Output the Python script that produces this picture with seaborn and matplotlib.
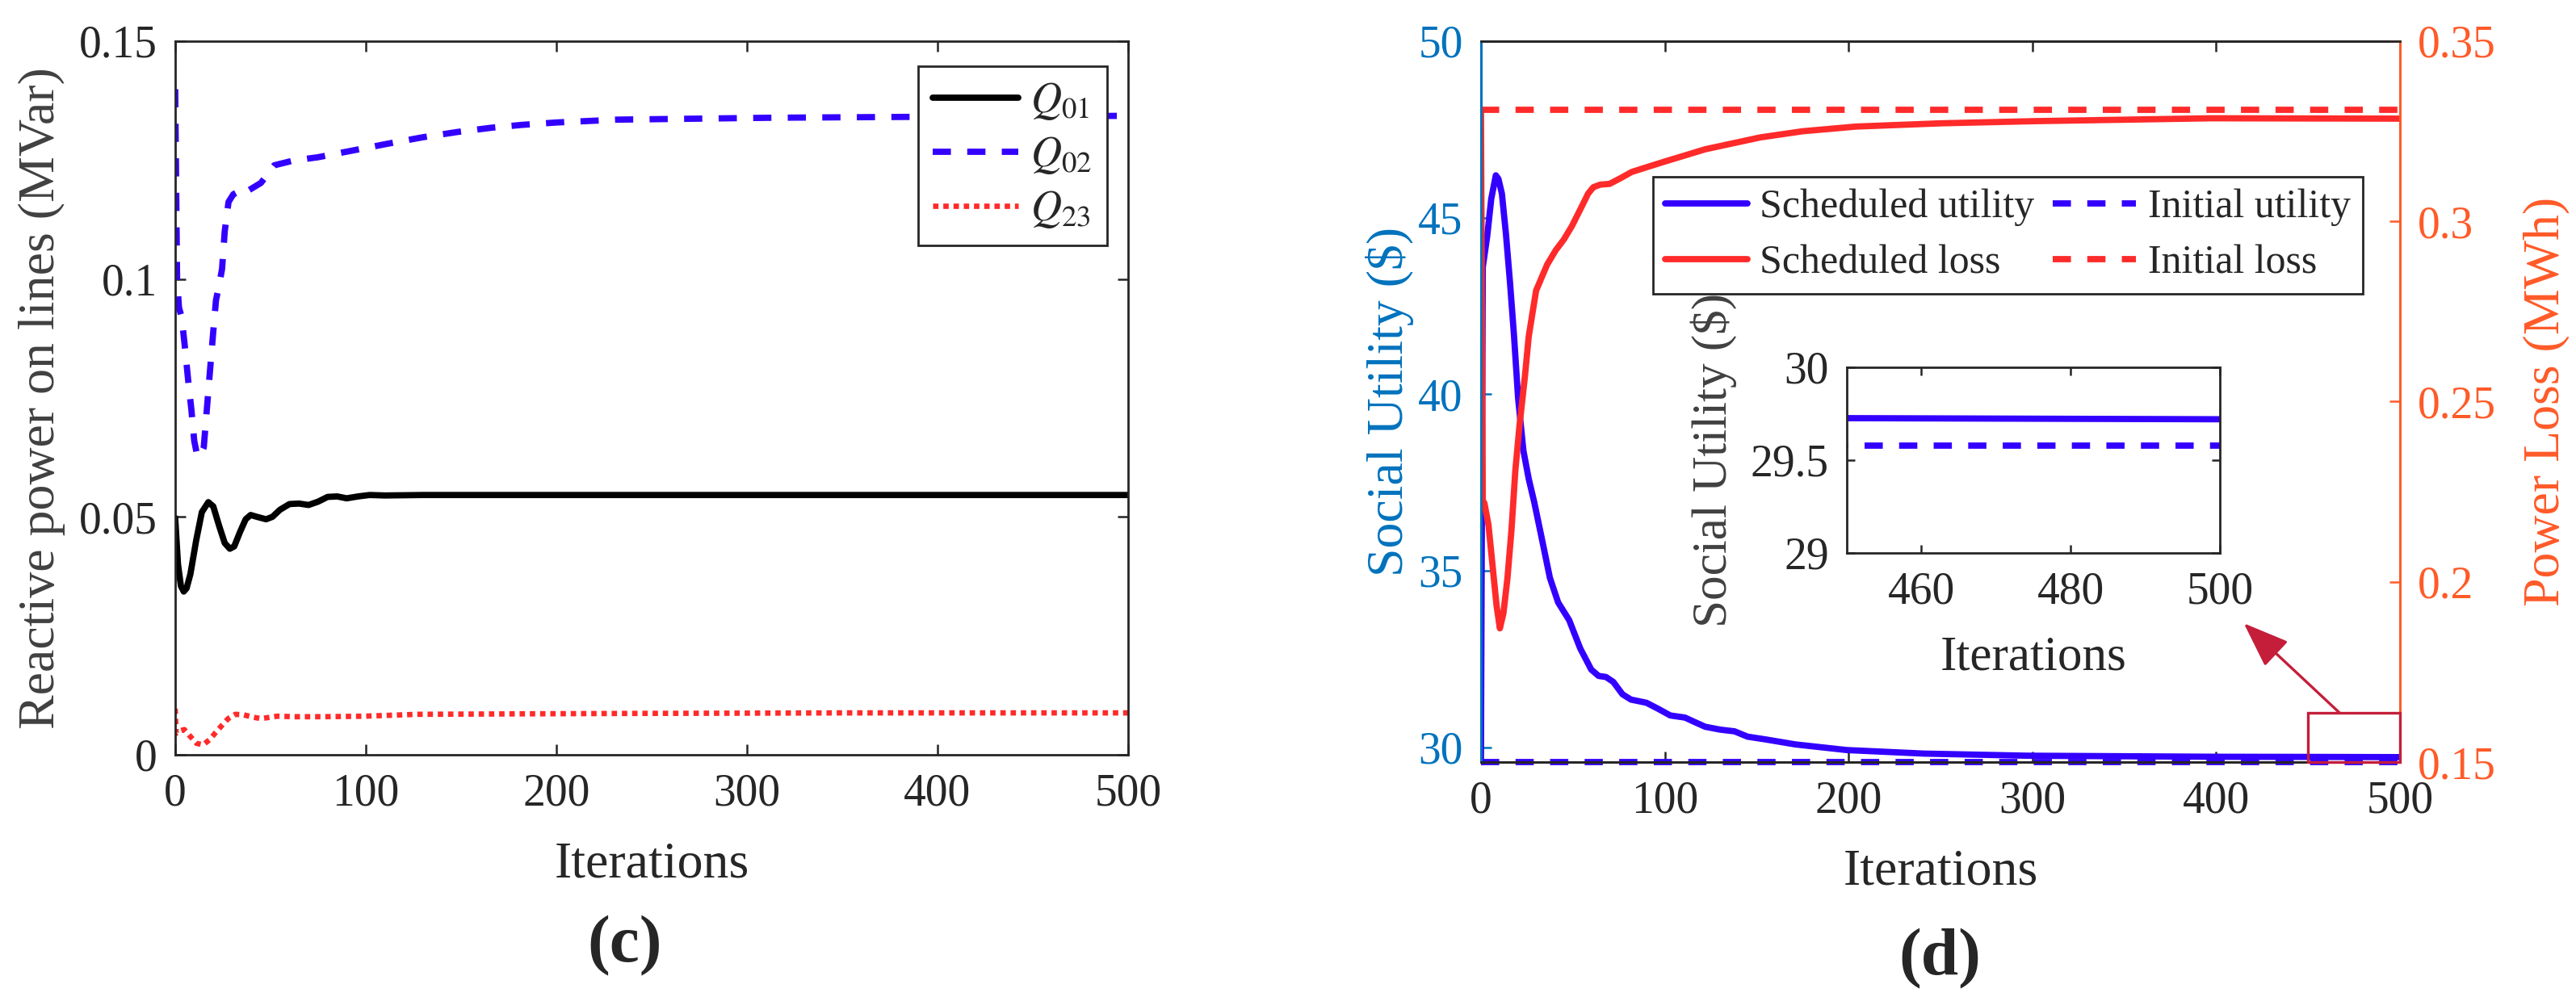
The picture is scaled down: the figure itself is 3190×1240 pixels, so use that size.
import seaborn as sns
import matplotlib.pyplot as plt
from matplotlib.patches import Rectangle

# ---- (c) reactive power on lines ----
q01_it = [0, 1.5, 3, 4.5, 6, 8, 11, 14, 17.4, 20, 23, 26, 28.7, 31, 34, 37, 39.6, 43,
          47.7, 51, 55, 60, 65, 70, 75, 80, 85, 90, 96, 102, 110, 130, 200, 500]
q01 = [0.0498, 0.0400, 0.0355, 0.0343, 0.0350, 0.0380, 0.0450, 0.0510, 0.0531, 0.0522,
       0.0482, 0.0445, 0.0433, 0.0438, 0.0468, 0.0495, 0.0504, 0.0500, 0.0495, 0.0500,
       0.0515, 0.0527, 0.0528, 0.0525, 0.0532, 0.0542, 0.0543, 0.0539, 0.0543, 0.0546,
       0.0545, 0.0546, 0.0546, 0.0546]

q02_it = [0, 1, 2, 3.4, 5, 7, 8.5, 10, 11.7, 13, 15, 16.5, 18, 20, 21.4, 23.2, 24.6, 26,
          28, 30.5, 32.3, 35, 38, 45, 52, 62, 75, 93, 111, 130, 148, 166, 182, 200, 232,
          313, 394, 500]
q02 = [0.1399, 0.1000, 0.0940, 0.0920, 0.0861, 0.0780, 0.0726, 0.0660, 0.0626, 0.0628,
       0.0646, 0.0720, 0.0794, 0.0890, 0.0955, 0.0990, 0.1021, 0.1100, 0.1162, 0.1178,
       0.1182, 0.1176, 0.1185, 0.1202, 0.1239, 0.1249, 0.1256, 0.1270, 0.1284, 0.1298,
       0.1309, 0.1318, 0.1324, 0.1329, 0.1335, 0.1339, 0.1341, 0.1343]

q23_it = [0, 0.5, 2.5, 4.8, 7.6, 11.2, 14.7, 18.2, 21.3, 24.6, 27.8, 31.6, 35.9, 40.8,
          45, 53.5, 63.4, 77.5, 98.7, 127, 183.5, 250, 350, 500]
q23 = [0.0097, 0.0045, 0.0050, 0.0053, 0.0040, 0.0024, 0.0021, 0.0032, 0.0047, 0.0062,
       0.0076, 0.0085, 0.0084, 0.0079, 0.0076, 0.0081, 0.0080, 0.0080, 0.0081, 0.0085,
       0.0086, 0.0087, 0.0088, 0.0088]

# ---- (d) social utility and power loss ----
util_it = [0, 1, 3.4, 5.6, 8.1, 9.5, 11.4, 13.6, 15.8, 18, 20.2, 23.1, 26, 29, 33, 37.5,
           42, 48, 54, 60, 64, 68, 72, 77, 81.6, 90, 96, 103, 111, 116, 122, 130, 138,
           145, 155, 171, 199, 241, 297, 400, 450, 500]
util = [29.58, 43.6, 44.47, 45.53, 46.2, 46.1, 45.68, 44.54, 43.17, 41.65, 39.9, 38.4,
        37.6, 36.94, 35.94, 34.8, 34.1, 33.6, 32.8, 32.2, 32.02, 31.99, 31.85, 31.5,
        31.35, 31.26, 31.1, 30.9, 30.84, 30.72, 30.58, 30.5, 30.45, 30.3, 30.22, 30.08,
        29.92, 29.82, 29.76, 29.73, 29.726, 29.72]

loss_it = [0, 1, 1.9, 4.1, 6.3, 8.5, 10.3, 12.2, 14.4, 16.6, 18.7, 21, 23.9, 26, 30, 36,
           40.7, 45, 49.5, 55.4, 58.3, 61.2, 65, 70, 76, 82, 90, 100, 122, 152, 175, 204,
           250, 301, 397, 500]
loss = [0.331, 0.2226, 0.2218, 0.2158, 0.2046, 0.1934, 0.1871, 0.1912, 0.2009, 0.2143,
        0.2308, 0.2435, 0.2569, 0.2681, 0.2808, 0.2880, 0.2920, 0.2949, 0.2987, 0.3047,
        0.3077, 0.3095, 0.3102, 0.3104, 0.3120, 0.3137, 0.3150, 0.3166, 0.3200, 0.3233,
        0.3250, 0.3263, 0.3272, 0.3278, 0.3286, 0.3285]

init_it = [0, 500]
init_util = [29.58, 29.58]
init_loss = [0.331, 0.331]

TXT = "#262626"
BLUE = "#3300FF"
RED = "#FF2A2A"
AX_BLUE = "#0072BD"
AX_ORANGE = "#FF5A28"
BOX = "#C41E3A"

sns.set_theme(style="white")
plt.rcParams["font.family"] = ["Liberation Serif", "DejaVu Serif"]
plt.rcParams["mathtext.fontset"] = "stix"
plt.rcParams["text.color"] = TXT
plt.rcParams["axes.labelcolor"] = TXT
plt.rcParams["xtick.color"] = TXT
plt.rcParams["ytick.color"] = TXT

fig = plt.figure(figsize=(15.95, 6.2), dpi=200)
ax_c = fig.add_axes([0.0680, 0.2460, 0.3699, 0.7129])
ax_d = fig.add_axes([0.5749, 0.2387, 0.3568, 0.7202])
ax_r = ax_d.twinx()
ax_in = fig.add_axes([0.7169, 0.4476, 0.1448, 0.1855])

LW = 2.8
DASH = (0, (2.9, 2.6))
DOT = (0, (1.0, 0.9))


def style_box(ax, ticksize=20):
    for s in ax.spines.values():
        s.set_linewidth(1.0)
        s.set_color(TXT)
        s.set_visible(True)
    ax.tick_params(direction="in", length=4.7, width=0.9, labelsize=ticksize,
                   top=True, right=True, left=True, bottom=True, pad=8)


# ---------------- panel (c) ----------------
sns.lineplot(x=q01_it, y=q01, ax=ax_c, color="black", linewidth=LW, label=r"$Q_{01}$")
sns.lineplot(x=q02_it, y=q02, ax=ax_c, color=BLUE, linewidth=LW, linestyle=DASH,
             label=r"$Q_{02}$")
sns.lineplot(x=q23_it, y=q23, ax=ax_c, color=RED, linewidth=2.4, linestyle=DOT,
             label=r"$Q_{23}$")
ax_c.set_xlim(0, 500)
ax_c.set_ylim(0, 0.15)
ax_c.set_xticks([0, 100, 200, 300, 400, 500])
ax_c.set_yticks([0, 0.05, 0.1, 0.15])
ax_c.set_yticklabels(["0", "0.05", "0.1", "0.15"])
style_box(ax_c)
ax_c.set_xlabel("Iterations", fontsize=23, labelpad=12)
ax_c.set_ylabel("Reactive power on lines (MVar)", fontsize=23, labelpad=6, color="#404040")
leg = ax_c.legend(loc="upper right", bbox_to_anchor=(0.978, 0.965), borderaxespad=0,
                  fontsize=19, handlelength=2.0, handletextpad=0.3, labelspacing=0.3,
                  fancybox=False, framealpha=1, edgecolor=TXT, borderpad=0.35)
leg.get_frame().set_linewidth(1.0)

# ---------------- panel (d) ----------------
sns.lineplot(x=util_it, y=util, ax=ax_d, color=BLUE, linewidth=LW)
sns.lineplot(x=init_it, y=init_util, ax=ax_d, color=BLUE, linewidth=LW, linestyle=DASH)
ax_d.get_lines()[-1].set_clip_on(False)
sns.lineplot(x=loss_it, y=loss, ax=ax_r, color=RED, linewidth=LW)
sns.lineplot(x=init_it, y=init_loss, ax=ax_r, color=RED, linewidth=LW, linestyle=DASH)

ax_d.set_xlim(0, 500)
ax_d.set_ylim(29.58, 50)
ax_d.set_xticks([0, 100, 200, 300, 400, 500])
ax_d.set_yticks([30, 35, 40, 45, 50])
ax_r.set_ylim(0.15, 0.35)
ax_r.set_yticks([0.15, 0.2, 0.25, 0.3, 0.35])
ax_r.set_yticklabels(["0.15", "0.2", "0.25", "0.3", "0.35"])

for a in (ax_d, ax_r):
    for s in a.spines.values():
        s.set_linewidth(1.0)
        s.set_color(TXT)
    a.spines["left"].set_color(AX_BLUE)
    a.spines["right"].set_color(AX_ORANGE)
ax_d.tick_params(axis="x", direction="in", length=4.7, width=0.9, labelsize=20,
                 top=True, bottom=True, pad=8)
ax_d.tick_params(axis="y", direction="in", length=4.7, width=0.9, labelsize=20,
                 left=True, right=False, colors=AX_BLUE, pad=8)
ax_r.tick_params(axis="y", direction="in", length=4.7, width=0.9, labelsize=20,
                 right=True, left=False, colors=AX_ORANGE, pad=8)
ax_d.set_xlabel("Iterations", fontsize=23, labelpad=12)
ax_d.set_ylabel("Social Utility ($)", fontsize=23, color=AX_BLUE, labelpad=2)
ax_r.set_ylabel("Power Loss (MWh)", fontsize=23, color=AX_ORANGE, labelpad=12)

handles = ax_d.get_lines()[:2] + ax_r.get_lines()[:2]
handles = [handles[0], handles[2], handles[1], handles[3]]
labels = ["Scheduled utility", "Scheduled loss", "Initial utility", "Initial loss"]
leg2 = ax_r.legend(handles, labels, loc="upper left", bbox_to_anchor=(0.187, 0.812),
                   borderaxespad=0, ncol=2, fontsize=18, handlelength=2.05,
                   handletextpad=0.3, labelspacing=0.45, columnspacing=0.45,
                   fancybox=False, framealpha=1, edgecolor=TXT, borderpad=0.3)
leg2.get_frame().set_linewidth(1.0)

# zoom box and arrow
ax_r.add_patch(Rectangle((450, 0.15), 50, 0.0137, fill=False, edgecolor=BOX,
                         linewidth=1.2, clip_on=False, zorder=6))
ax_r.annotate("", xy=(415, 0.1885), xytext=(467, 0.1637),
              arrowprops=dict(arrowstyle="-|>,head_length=0.8,head_width=0.3", color=BOX,
                              lw=1.2, mutation_scale=22, shrinkA=0, shrinkB=0))

# ---------------- inset ----------------
sns.lineplot(x=util_it, y=util, ax=ax_in, color=BLUE, linewidth=LW)
sns.lineplot(x=init_it, y=init_util, ax=ax_in, color=BLUE, linewidth=LW, linestyle=DASH)
ax_in.set_facecolor("white")
ax_in.set_xlim(450, 500)
ax_in.set_ylim(29, 30)
ax_in.set_xticks([460, 480, 500])
ax_in.set_yticks([29, 29.5, 30])
ax_in.set_yticklabels(["29", "29.5", "30"])
style_box(ax_in, ticksize=20)
ax_in.tick_params(length=3.5)
ax_in.set_xlabel("Iterations", fontsize=22, labelpad=10)
ax_in.set_ylabel("Social Utility ($)", fontsize=22, color="#404040", labelpad=6)

fig.text(774 / 3190, 1 - 1172 / 1240, "(c)", ha="center", va="center", fontsize=30,
         fontweight="bold")
fig.text(2402 / 3190, 1 - 1188 / 1240, "(d)", ha="center", va="center", fontsize=30,
         fontweight="bold")

fig.savefig("out.png", dpi=200, facecolor="white")
